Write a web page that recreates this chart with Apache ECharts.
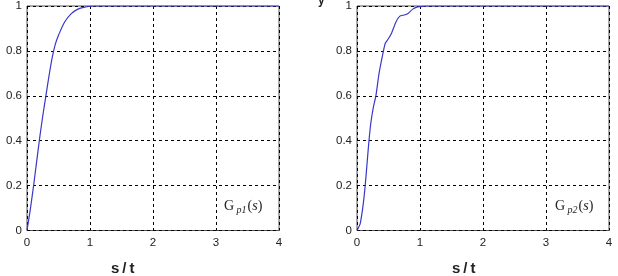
<!DOCTYPE html>
<html><head><meta charset="utf-8">
<script src="https://cdn.jsdelivr.net/npm/echarts@6/dist/echarts.min.js"></script>
<style>html,body{margin:0;padding:0;background:#fff}#c{width:618px;height:276px}</style>
</head><body><div id="c"></div>
<script>
var xTicks = [0, 1, 2, 3, 4];
var yTicks = [0, 0.2, 0.4, 0.6, 0.8, 1];
var t1 = [0, 0.05, 0.1, 0.15, 0.2, 0.25, 0.3, 0.35, 0.4, 0.45, 0.5, 0.6, 0.7, 0.8, 0.9, 1.0, 1.1, 4];
var v1 = [0, 0.09, 0.19, 0.3, 0.41, 0.51, 0.6, 0.69, 0.77, 0.83, 0.87, 0.93, 0.965, 0.985, 0.994, 0.999, 1, 1];
var t2 = [0, 0.05, 0.1, 0.13, 0.16, 0.19, 0.22, 0.26, 0.3, 0.35, 0.42, 0.45, 0.5, 0.55, 0.62, 0.68, 0.75, 0.81, 0.88, 0.95, 1.0, 1.1, 4];
var v2 = [0, 0.03, 0.12, 0.2, 0.3, 0.4, 0.48, 0.55, 0.6, 0.7, 0.8, 0.835, 0.855, 0.88, 0.93, 0.955, 0.96, 0.967, 0.985, 0.995, 0.997, 1, 1];
var xName = 's\u2009/\u2009t';
var yName = 'y';
var labels = ['p1', 'p2'];

function pairs(t, v) { return t.map(function (x, i) { return [x, v[i]]; }); }

var chart = echarts.init(document.getElementById('c'), null, {renderer: 'canvas'});
var grids = [
  {left: 27, top: 4, width: 252, height: 226.5, show: true, borderColor: '#555', borderWidth: 1, backgroundColor: '#fff'},
  {left: 357, top: 4, width: 252, height: 226.5, show: true, borderColor: '#555', borderWidth: 1, backgroundColor: '#fff'}
];
function xAxis(i) {
  return {gridIndex: i, type: 'value', min: xTicks[0], max: xTicks[xTicks.length - 1], interval: 1,
    axisLine: {show: false}, axisTick: {show: false},
    axisLabel: {margin: 6, color: '#222', fontFamily: 'Arial, Liberation Sans', fontSize: 11.5},
    splitLine: {show: true, lineStyle: {color: '#000', type: [3, 3], width: 1}}};
}
function yAxis(i) {
  return {gridIndex: i, type: 'value', min: yTicks[0], max: yTicks[yTicks.length - 1], interval: 0.2,
    axisLine: {show: false}, axisTick: {show: false},
    axisLabel: {margin: 5, color: '#222', fontFamily: 'Arial, Liberation Sans', fontSize: 11.5,
      formatter: function (v) { return String(Math.round(v * 10) / 10); }},
    splitLine: {show: true, lineStyle: {color: '#000', type: [3, 3], width: 1}}};
}
function gLabel(x, sub) {
  return {type: 'text', left: x, top: 199, z: 100,
    style: {text: '{g|G}{s| ' + sub + '}{p|(}{i|s}{p|)}', rich: {
      g: {fontFamily: 'Liberation Serif, Times New Roman', fontSize: 14, fill: '#222'},
      s: {fontFamily: 'Liberation Serif, Times New Roman', fontStyle: 'italic', fontSize: 10, fill: '#222', padding: [9, 1, 0, 0]},
      p: {fontFamily: 'Liberation Serif, Times New Roman', fontSize: 14, fill: '#222'},
      i: {fontFamily: 'Liberation Serif, Times New Roman', fontStyle: 'italic', fontSize: 14, fill: '#222'}
    }}};
}
chart.setOption({
  animation: false,
  grid: grids,
  xAxis: [xAxis(0), xAxis(1)],
  yAxis: [yAxis(0), yAxis(1)],
  series: [
    {type: 'line', xAxisIndex: 0, yAxisIndex: 0, data: pairs(t1, v1), showSymbol: false, smooth: 0.3,
      lineStyle: {color: '#3838cc', width: 1.2}, z: 5},
    {type: 'line', xAxisIndex: 1, yAxisIndex: 1, data: pairs(t2, v2), showSymbol: false, smooth: 0.15,
      lineStyle: {color: '#3838cc', width: 1.2}, z: 5}
  ],
  graphic: [
    {type: 'text', left: 111, top: 261, style: {text: xName, font: 'bold 15px Arial, Liberation Sans', fill: '#222'}},
    {type: 'text', left: 452, top: 261, style: {text: xName, font: 'bold 15px Arial, Liberation Sans', fill: '#222'}},
    {type: 'text', left: 318, top: -5, style: {text: yName, font: 'bold 12px Arial, Liberation Sans', fill: '#222'}},
    gLabel(224, labels[0]),
    gLabel(555, labels[1])
  ]
});
</script></body></html>
